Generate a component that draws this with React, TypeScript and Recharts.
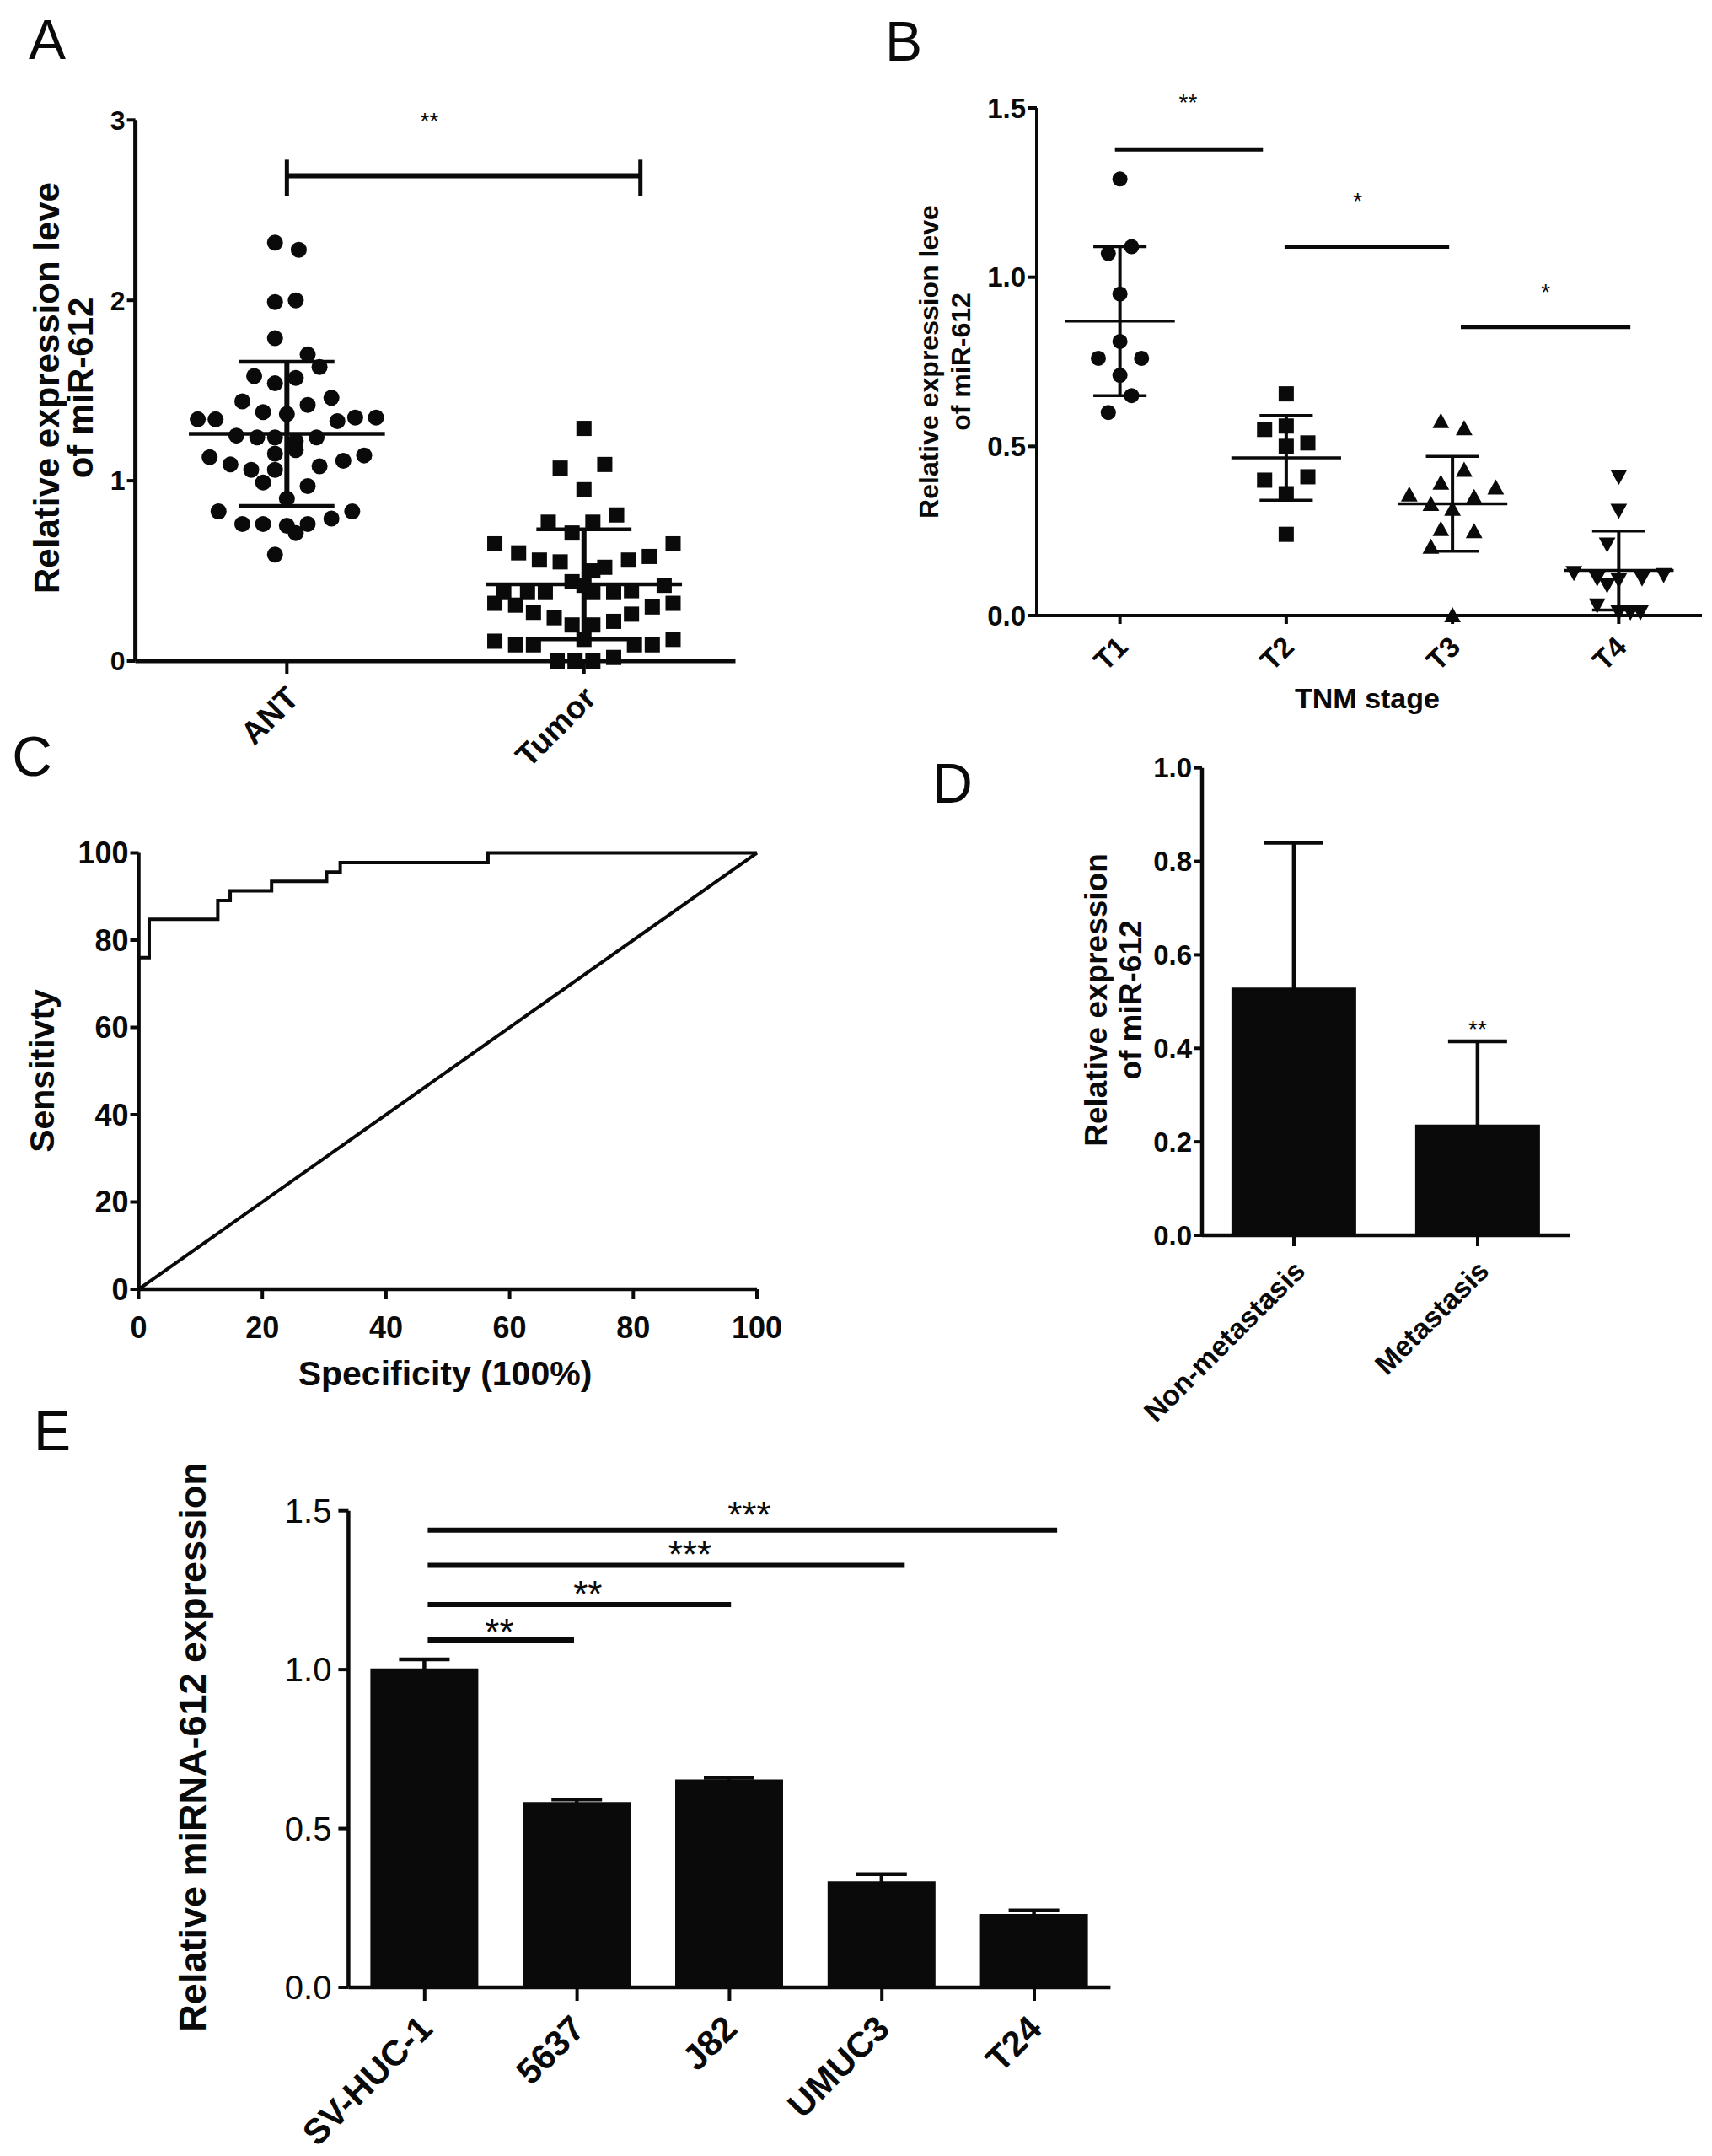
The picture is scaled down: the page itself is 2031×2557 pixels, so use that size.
import React from "react";
import {
  ScatterChart,
  Scatter,
  LineChart,
  Line,
  BarChart,
  Bar,
  ErrorBar,
  XAxis,
  YAxis,
  ReferenceLine,
  ReferenceDot,
} from "recharts";

const FONT = '"Liberation Sans", Arial, Helvetica, sans-serif';
const INK = "#0a0a0a";

// ---------- A: ANT vs tumour (scatter, mean ± SD) ----------
const groupsA = ["ANT", "Tumor"];
const antValues = [
  2.32, 2.28, 1.99, 2.0, 1.79, 1.7, 1.63, 1.58, 1.57, 1.54, 1.46, 1.44, 1.42, 1.38, 1.37, 1.34,
  1.34, 1.33, 1.35, 1.35, 1.25, 1.24, 1.24, 1.22, 1.24, 1.15, 1.17, 1.13, 1.09, 1.06, 1.06, 1.08,
  1.11, 1.14, 0.99, 0.97, 0.9, 0.83, 0.76, 0.76, 0.75, 0.71, 0.76, 0.79, 0.83, 0.59,
];
const antOffsets = [
  -0.04, 0.04, -0.04, 0.03, -0.04, 0.07, 0.11, -0.11, 0.03, -0.04, 0.15, -0.15, 0.07, -0.08, 0.0,
  -0.3, -0.24, 0.17, 0.23, 0.3, -0.17, -0.1, -0.04, 0.03, 0.1, -0.04, 0.03, -0.26, -0.19, -0.12,
  -0.04, 0.11, 0.19, 0.26, -0.08, 0.07, 0.0, -0.23, -0.15, -0.08, 0.0, 0.03, 0.07, 0.15, 0.22, -0.04,
];
const tumorValues = [
  1.29, 1.07, 1.09, 0.95, 0.81, 0.77, 0.71, 0.77, 0.65, 0.6, 0.65, 0.56, 0.55, 0.5, 0.52, 0.56,
  0.58, 0.38, 0.38, 0.38, 0.44, 0.42, 0.38, 0.38, 0.39, 0.42, 0.32, 0.31, 0.27, 0.24, 0.2, 0.2,
  0.22, 0.26, 0.3, 0.32, 0.11, 0.09, 0.09, 0.0, 0.0, 0.0, 0.02, 0.09, 0.09, 0.12, 0.12,
];
const tumorOffsets = [
  0, -0.08, 0.07, 0, 0.11, -0.12, -0.04, 0.03, -0.3, -0.22, 0.3, -0.15, -0.08, 0.03, 0.07, 0.15,
  0.22, -0.27, -0.19, -0.13, -0.04, 0, 0.03, 0.1, 0.16, 0.27, -0.3, -0.23, -0.17, -0.1, -0.04,
  0.03, 0.1, 0.16, 0.23, 0.3, -0.3, -0.23, -0.17, -0.09, -0.03, 0.03, 0.1, 0.17, 0.23, 0.3, 0,
];
const meanA = [1.26, 0.425];
const sdA = [0.4, 0.305];

// ---------- B: TNM stage ----------
const stagesB = ["T1", "T2", "T3", "T4"];
const t1Values = [1.29, 1.09, 1.07, 0.95, 0.81, 0.76, 0.76, 0.71, 0.65, 0.6];
const t1Offsets = [0, 0.07, -0.07, 0, 0, -0.13, 0.13, 0, 0.07, -0.07];
const t2Values = [0.655, 0.55, 0.56, 0.51, 0.5, 0.4, 0.41, 0.36, 0.24];
const t2Offsets = [0, -0.13, 0, 0.13, 0, -0.13, 0.13, 0, 0];
const t3Values = [0.574, 0.553, 0.43, 0.392, 0.35, 0.378, 0.357, 0.329, 0.315, 0.255, 0.249, 0.203, 0.0];
const t3Offsets = [-0.07, 0.07, 0.07, -0.07, 0.13, 0.26, -0.26, -0.13, 0, -0.07, 0.13, -0.13, 0];
const t4Values = [0.41, 0.31, 0.21, 0.126, 0.11, 0.105, 0.11, 0.12, 0.09, 0.03, 0.01, 0.01, 0.01];
const t4Offsets = [0, 0, -0.07, -0.27, -0.13, 0, 0.14, 0.27, -0.07, -0.13, 0, 0.07, 0.13];
const meanB = [0.87, 0.466, 0.33, 0.133];
const sdB = [0.22, 0.125, 0.14, 0.117];

// ---------- C: ROC ----------
const rocSpec = [0, 0, 1.7, 12.8, 14.8, 21.5, 30.4, 32.6, 56.5, 100];
const rocSens = [0, 76, 84.8, 89.1, 91.3, 93.5, 95.6, 97.8, 100, 100];
const diagSpec = [0, 100];
const diagSens = [0, 100];
const rocTicks = [0, 20, 40, 60, 80, 100];

// ---------- D: metastasis ----------
const dCats = ["Non-metastasis", "Metastasis"];
const dMeans = [0.53, 0.237];
const dErrs = [0.31, 0.178];

// ---------- E: cell lines ----------
const eCats = ["SV-HUC-1", "5637", "J82", "UMUC3", "T24"];
const eMeans = [1.004, 0.583, 0.654, 0.334, 0.231];
const eErrs = [0.028, 0.008, 0.006, 0.022, 0.011];
const eSigTo = [0.98, 2.01, 3.15, 4.15];
const eSigY = [1.093, 1.205, 1.328, 1.439];
const eSigText = ["**", "**", "***", "***"];
const eStarX = [0.49, 1.07, 1.74, 2.13];
const eStarY = [1.142, 1.262, 1.385, 1.51];

const toPoints = (center: number, values: number[], offsets: number[]) =>
  values.map((v, i) => ({ x: center + offsets[i], y: v }));

const marker = (kind: string, r: number) => (p: any) => {
  const { cx, cy } = p;
  if (kind === "circle") return <circle cx={cx} cy={cy} r={r} fill={INK} />;
  if (kind === "square")
    return <rect x={cx - r} y={cy - r} width={2 * r} height={2 * r} fill={INK} />;
  if (kind === "triangle")
    return (
      <polygon
        points={`${cx},${cy - r * 1.1} ${cx - r * 1.1},${cy + r * 0.9} ${cx + r * 1.1},${cy + r * 0.9}`}
        fill={INK}
      />
    );
  return (
    <polygon
      points={`${cx - r * 1.1},${cy - r * 0.9} ${cx + r * 1.1},${cy - r * 0.9} ${cx},${cy + r * 1.1}`}
      fill={INK}
    />
  );
};

const seg = (key: string, x1: number, y1: number, x2: number, y2: number, w: number) => (
  <ReferenceLine
    key={key}
    segment={[
      { x: x1, y: y1 },
      { x: x2, y: y2 },
    ]}
    stroke={INK}
    strokeWidth={w}
    ifOverflow="visible"
  />
);

const stars = (key: string, x: any, y: number, text: string, size: number) => (
  <ReferenceDot
    key={key}
    x={x}
    y={y}
    r={1}
    fill="none"
    stroke="none"
    ifOverflow="visible"
    label={{
      content: (p: any) => {
        const vb = p.viewBox || {};
        const cx = (vb.x ?? p.x ?? 0) + (vb.width ?? 0) / 2;
        const cy = (vb.y ?? p.y ?? 0) + (vb.height ?? 0) / 2;
        return (
          <text x={cx} y={cy + size * 0.55} textAnchor="middle" fontFamily={FONT} fontSize={size} fill={INK}>
            {text}
          </text>
        );
      },
    }}
  />
);

const meanSd = (key: string, cx: number, mean: number, sd: number, half: number, cap: number, mw: number, vw: number) => [
  seg(key + "m", cx - half, mean, cx + half, mean, mw),
  seg(key + "v", cx, mean - sd, cx, mean + sd, vw),
  seg(key + "t", cx - cap, mean + sd, cx + cap, mean + sd, mw),
  seg(key + "b", cx - cap, mean - sd, cx + cap, mean - sd, mw),
];

// rotated category label: its top-right corner sits at (tick + dx, tick end + gap)
const angledTick = (names: string[] | null, base: number, size: number, gap: number, dx = 0) => (p: any) => {
  const { x, y, payload } = p;
  const label = names ? names[Math.round(payload.value) - base] : payload.value;
  const ax = x + dx;
  const ay = y + gap;
  return (
    <text
      x={ax}
      y={ay}
      dy="0.72em"
      transform={`rotate(-45 ${ax} ${ay})`}
      textAnchor="end"
      fontFamily={FONT}
      fontWeight="bold"
      fontSize={size}
      fill={INK}
    >
      {label}
    </text>
  );
};

function Txt({ x, y, size, weight = "bold", rotate = 0, children }: any) {
  return (
    <div
      style={{
        position: "absolute",
        left: x,
        top: y,
        transform: `translate(-50%, -50%) rotate(${rotate}deg)`,
        fontSize: size,
        fontWeight: weight,
        lineHeight: 1,
        whiteSpace: "nowrap",
        color: INK,
        fontFamily: FONT,
      }}
    >
      {children}
    </div>
  );
}

const axisStyle = (w: number) => ({ stroke: INK, strokeWidth: w });
const tickFont = (size: number, weight = "bold") => ({
  fontFamily: FONT,
  fontWeight: weight,
  fontSize: size,
  fill: INK,
});

function PanelA() {
  return (
    <div style={{ position: "absolute", left: 0, top: 100 }}>
      <ScatterChart width={885} height={854} margin={{ top: 42.3, right: 12.5, bottom: 0, left: 0 }}>
        <XAxis
          type="number"
          dataKey="x"
          domain={[0.49, 2.51]}
          ticks={[1, 2]}
          interval={0}
          height={170}
          axisLine={axisStyle(5)}
          tickLine={axisStyle(4)}
          tickSize={15}
          tick={angledTick(groupsA, 1, 38, 10, -3)}
        />
        <YAxis
          type="number"
          dataKey="y"
          domain={[0, 3]}
          ticks={[0, 1, 2, 3]}
          interval={0}
          width={160.6}
          axisLine={axisStyle(5)}
          tickLine={axisStyle(4)}
          tickSize={10}
          tick={tickFont(32)}
        />
        <Scatter data={toPoints(1, antValues, antOffsets)} shape={marker("circle", 9.5)} isAnimationActive={false} />
        <Scatter data={toPoints(2, tumorValues, tumorOffsets)} shape={marker("square", 9)} isAnimationActive={false} />
        {meanA.map((m, i) => meanSd("a" + i, i + 1, m, sdA[i], 0.33, 0.16, 4.5, 6))}
        {seg("sigA", 1, 2.69, 2.19, 2.69, 6)}
        {seg("sigAl", 1, 2.58, 1, 2.78, 5)}
        {seg("sigAr", 2.19, 2.58, 2.19, 2.78, 5)}
        {stars("starA", 1.48, 3.02, "**", 28)}
      </ScatterChart>
    </div>
  );
}

function PanelB() {
  const shapes = ["circle", "square", "triangle", "down"];
  const series = [
    toPoints(1, t1Values, t1Offsets),
    toPoints(2, t2Values, t2Offsets),
    toPoints(3, t3Values, t3Offsets),
    toPoints(4, t4Values, t4Offsets),
  ];
  return (
    <div style={{ position: "absolute", left: 1000, top: 90 }}>
      <ScatterChart width={1031} height={790} margin={{ top: 38, right: 12, bottom: 0, left: 0 }}>
        <XAxis
          type="number"
          dataKey="x"
          domain={[0.5, 4.5]}
          ticks={[1, 2, 3, 4]}
          interval={0}
          height={150}
          axisLine={axisStyle(4)}
          tickLine={axisStyle(4)}
          tickSize={10}
          tick={angledTick(stagesB, 1, 34, 10, -6)}
        />
        <YAxis
          type="number"
          dataKey="y"
          domain={[0, 1.5]}
          ticks={[0, 0.5, 1, 1.5]}
          interval={0}
          width={230}
          tickFormatter={(v: number) => v.toFixed(1)}
          axisLine={axisStyle(4)}
          tickLine={axisStyle(4)}
          tickSize={10}
          tickMargin={3}
          tick={tickFont(33)}
        />
        {series.map((d, i) => (
          <Scatter key={stagesB[i]} data={d} shape={marker(shapes[i], 9)} isAnimationActive={false} />
        ))}
        {meanB.map((m, i) => meanSd("b" + i, i + 1, m, sdB[i], 0.33, 0.16, 3.5, 4))}
        {seg("sigB1", 0.97, 1.377, 1.86, 1.377, 5)}
        {seg("sigB2", 1.99, 1.09, 2.98, 1.09, 5)}
        {seg("sigB3", 3.05, 0.853, 4.07, 0.853, 5)}
        {stars("starB1", 1.41, 1.53, "**", 28)}
        {stars("starB2", 2.43, 1.24, "*", 28)}
        {stars("starB3", 3.56, 0.97, "*", 28)}
      </ScatterChart>
    </div>
  );
}

function PanelC() {
  const roc = rocSpec.map((x, i) => ({ x, y: rocSens[i] }));
  const diag = diagSpec.map((x, i) => ({ x, y: diagSens[i] }));
  return (
    <div style={{ position: "absolute", left: 0, top: 960 }}>
      <LineChart width={930} height={650} margin={{ top: 51.5, right: 32, bottom: 0, left: 0 }}>
        <XAxis
          type="number"
          dataKey="x"
          domain={[0, 100]}
          ticks={rocTicks}
          interval={0}
          height={81}
          axisLine={axisStyle(4.5)}
          tickLine={axisStyle(4)}
          tickSize={12}
          tickMargin={20}
          tick={tickFont(36)}
        />
        <YAxis
          type="number"
          dataKey="y"
          domain={[0, 100]}
          ticks={rocTicks}
          interval={0}
          width={164.5}
          axisLine={axisStyle(4.5)}
          tickLine={axisStyle(4)}
          tickSize={10}
          tick={tickFont(36)}
        />
        <Line data={diag} dataKey="y" type="linear" stroke={INK} strokeWidth={4} dot={false} isAnimationActive={false} />
        <Line data={roc} dataKey="y" type="stepAfter" stroke={INK} strokeWidth={4} dot={false} isAnimationActive={false} />
      </LineChart>
    </div>
  );
}

function PanelD() {
  const data = dCats.map((name, i) => ({ name, v: dMeans[i], e: dErrs[i] }));
  return (
    <div style={{ position: "absolute", left: 1100, top: 870 }}>
      <BarChart
        width={800}
        height={866}
        data={data}
        barCategoryGap="16%"
        margin={{ top: 40.7, right: 38, bottom: 0, left: 0 }}
      >
        <XAxis
          dataKey="name"
          interval={0}
          height={271}
          axisLine={axisStyle(4.5)}
          tickLine={axisStyle(4)}
          tickSize={13}
          tick={angledTick(null, 0, 34, 12, -2)}
        />
        <YAxis
          type="number"
          domain={[0, 1]}
          ticks={[0, 0.2, 0.4, 0.6, 0.8, 1]}
          interval={0}
          width={326}
          tickFormatter={(v: number) => v.toFixed(1)}
          axisLine={axisStyle(4.5)}
          tickLine={axisStyle(4)}
          tickSize={10}
          tick={tickFont(33)}
        />
        <Bar dataKey="v" fill={INK} isAnimationActive={false}>
          <ErrorBar dataKey="e" width={35} stroke={INK} strokeWidth={4.5} direction="y" isAnimationActive={false} />
        </Bar>
        {stars("starD", "Metastasis", 0.451, "**", 28)}
      </BarChart>
    </div>
  );
}

function PanelE() {
  const data = eCats.map((name, i) => ({ pos: i, name, v: eMeans[i], e: eErrs[i] }));
  return (
    <div style={{ position: "absolute", left: 0, top: 1740 }}>
      <BarChart width={1340} height={817} data={data} margin={{ top: 51.7, right: 22.6, bottom: 0, left: 0 }}>
        <XAxis
          type="number"
          dataKey="pos"
          domain={[-0.5, 4.5]}
          ticks={[0, 1, 2, 3, 4]}
          interval={0}
          allowDataOverflow
          height={200}
          axisLine={axisStyle(4.5)}
          tickLine={axisStyle(4)}
          tickSize={16}
          tick={angledTick(eCats, 0, 42, 12, -10)}
        />
        <YAxis
          type="number"
          domain={[0, 1.5]}
          ticks={[0, 0.5, 1, 1.5]}
          interval={0}
          width={413.4}
          tickFormatter={(v: number) => v.toFixed(1)}
          axisLine={axisStyle(4.5)}
          tickLine={axisStyle(4)}
          tickSize={12}
          tickMargin={8}
          tick={tickFont(40, "normal")}
        />
        <Bar dataKey="v" fill={INK} barSize={128} isAnimationActive={false}>
          <ErrorBar dataKey="e" width={30} stroke={INK} strokeWidth={4.5} direction="y" isAnimationActive={false} />
        </Bar>
        {eSigTo.map((to, i) => seg("sigE" + i, 0.02, eSigY[i], to, eSigY[i], 6))}
        {eStarX.map((x, i) => stars("starE" + i, x, eStarY[i], eSigText[i], 44))}
      </BarChart>
    </div>
  );
}

export default function App() {
  return (
    <div
      style={{
        position: "absolute",
        left: 0,
        top: 0,
        width: 2031,
        height: 2557,
        background: "#ffffff",
        fontFamily: FONT,
        overflow: "hidden",
      }}
    >
      <PanelA />
      <PanelB />
      <PanelC />
      <PanelD />
      <PanelE />

      <Txt x={56} y={47} size={66} weight="normal">A</Txt>
      <Txt x={1072} y={49} size={66} weight="normal">B</Txt>
      <Txt x={38} y={897} size={66} weight="normal">C</Txt>
      <Txt x={1130} y={929} size={66} weight="normal">D</Txt>
      <Txt x={62} y={1697} size={66} weight="normal">E</Txt>

      <Txt x={56} y={460} size={42} rotate={-90}>Relative expression leve</Txt>
      <Txt x={96} y={460} size={42} rotate={-90}>of miR-612</Txt>

      <Txt x={1102} y={429} size={32} rotate={-90}>Relative expression leve</Txt>
      <Txt x={1140} y={429} size={32} rotate={-90}>of miR-612</Txt>
      <Txt x={1622} y={828} size={34}>TNM stage</Txt>

      <Txt x={50} y={1270} size={41} rotate={-90}>Sensitivty</Txt>
      <Txt x={528} y={1629} size={41}>Specificity (100%)</Txt>

      <Txt x={1300} y={1186} size={37} rotate={-90}>Relative expression</Txt>
      <Txt x={1341} y={1186} size={37} rotate={-90}>of miR-612</Txt>

      <Txt x={228} y={2072} size={45} rotate={-90}>Relative miRNA-612 expression</Txt>
    </div>
  );
}
